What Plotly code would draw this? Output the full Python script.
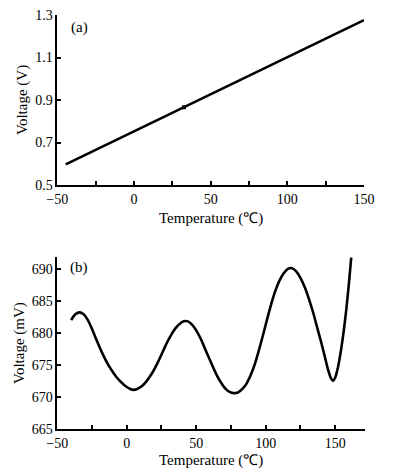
import plotly.graph_objects as go

# Panel (a): linear voltage vs temperature
temp_a = [-44.5, 150]
volt_a = [0.597, 1.276]
dot_temp = [32.6]
dot_volt = [0.866]

# Panel (b): oscillating voltage (mV) vs temperature
temp_b = [-40, -37, -34, -31, -28, -25, -22, -19, -16, -13, -10, -7, -4, -1, 2, 5, 8,
          11, 14, 17, 20, 23, 26, 29, 32, 35, 38, 41, 44, 47, 50, 53, 56, 59, 62, 65,
          68, 71, 74, 77, 80, 83, 86, 89, 92, 95, 98, 101, 104, 107, 110, 113, 116,
          119, 122, 125, 128, 131, 134, 137, 140, 143, 145, 147, 148.5, 150, 152, 154,
          156, 158, 160, 161.6]
volt_b = [682.0, 682.9, 683.2, 682.9, 682.0, 680.6, 679.0, 677.5, 676.1, 674.9, 673.9,
          673.0, 672.3, 671.7, 671.3, 671.1, 671.3, 671.7, 672.4, 673.3, 674.4, 675.7,
          677.1, 678.5, 679.7, 680.7, 681.4, 681.8, 681.8, 681.3, 680.4, 679.2, 677.7,
          676.2, 674.7, 673.3, 672.2, 671.3, 670.8, 670.6, 670.7, 671.2, 672.0, 673.3,
          675.0, 677.2, 679.6, 682.1, 684.5, 686.6, 688.2, 689.3, 690.0, 690.1, 689.6,
          688.6, 687.2, 685.4, 683.3, 680.9, 678.5, 675.9, 674.2, 672.9, 672.5, 673.0,
          674.6, 677.0, 680.0, 683.6, 687.9, 691.8]

x_ticks = [-50, -25, 0, 25, 50, 75, 100, 125, 150]
x_text = ["\u221250", "", "0", "", "50", "", "100", "", "150"]
ya_ticks = [0.5, 0.7, 0.9, 1.1, 1.3]
ya_text = ["0.5", "0.7", "0.9", "1.1", "1.3"]
yb_ticks = [665, 670, 675, 680, 685, 690]

FONT = "Liberation Serif"
W, H = 395, 476

fig = go.Figure()
fig.add_trace(go.Scatter(x=temp_a, y=volt_a, mode="lines",
                         line=dict(color="black", width=2.6),
                         xaxis="x", yaxis="y", showlegend=False))
fig.add_trace(go.Scatter(x=dot_temp, y=dot_volt, mode="markers",
                         marker=dict(color="black", size=4, symbol="square"),
                         xaxis="x", yaxis="y", showlegend=False))
fig.add_trace(go.Scatter(x=temp_b, y=volt_b, mode="lines",
                         line=dict(color="black", width=2.6, shape="spline", smoothing=1.0),
                         xaxis="x2", yaxis="y2", showlegend=False, cliponaxis=True))

def px_x(p):
    return p / W

def px_y(p):
    return 1 - p / H

axis_common = dict(showgrid=False, zeroline=False, showline=True, linecolor="black",
                   linewidth=1.5, ticks="inside", ticklen=4, tickwidth=1.5,
                   tickcolor="black", automargin=False,
                   tickfont=dict(family=FONT, size=14, color="black"))

fig.update_layout(
    width=W, height=H,
    margin=dict(l=0, r=0, t=0, b=0, pad=0),
    paper_bgcolor="white", plot_bgcolor="white",
    font=dict(family=FONT, color="black"),
    xaxis=dict(domain=[px_x(57.3), px_x(364)], range=[-50, 150], anchor="y",
               tickmode="array", tickvals=x_ticks, ticktext=x_text, **axis_common),
    yaxis=dict(domain=[px_y(185), px_y(15)], range=[0.5, 1.3], anchor="x",
               tickmode="array", tickvals=ya_ticks, ticktext=ya_text, **axis_common),
    xaxis2=dict(domain=[px_x(57.3), px_x(365)], range=[-50, 171.5], anchor="y2",
                tickmode="array", tickvals=x_ticks, ticktext=x_text, **axis_common),
    yaxis2=dict(domain=[px_y(429), px_y(257.3)], range=[665, 691.8], anchor="x2",
                tickmode="array", tickvals=yb_ticks, **axis_common),
)

ann_font = dict(family=FONT, size=15, color="black")
annotations = [
    dict(text="(a)", x=px_x(79), y=px_y(27.5)),
    dict(text="(b)", x=px_x(79), y=px_y(267.7)),
    dict(text="Temperature (\u2103)", x=px_x(211), y=px_y(219)),
    dict(text="Temperature (\u2103)", x=px_x(211), y=px_y(460)),
    dict(text="Voltage (V)", x=px_x(22), y=px_y(100), textangle=-90),
    dict(text="Voltage (mV)", x=px_x(19), y=px_y(343), textangle=-90),
]
for a in annotations:
    a.update(xref="paper", yref="paper", showarrow=False, font=ann_font,
             xanchor="center", yanchor="middle")
fig.update_layout(annotations=annotations)

fig.write_html("out.html", config={"displayModeBar": False},
               post_script="document.body.style.margin='0px';document.body.style.overflow='hidden';")
